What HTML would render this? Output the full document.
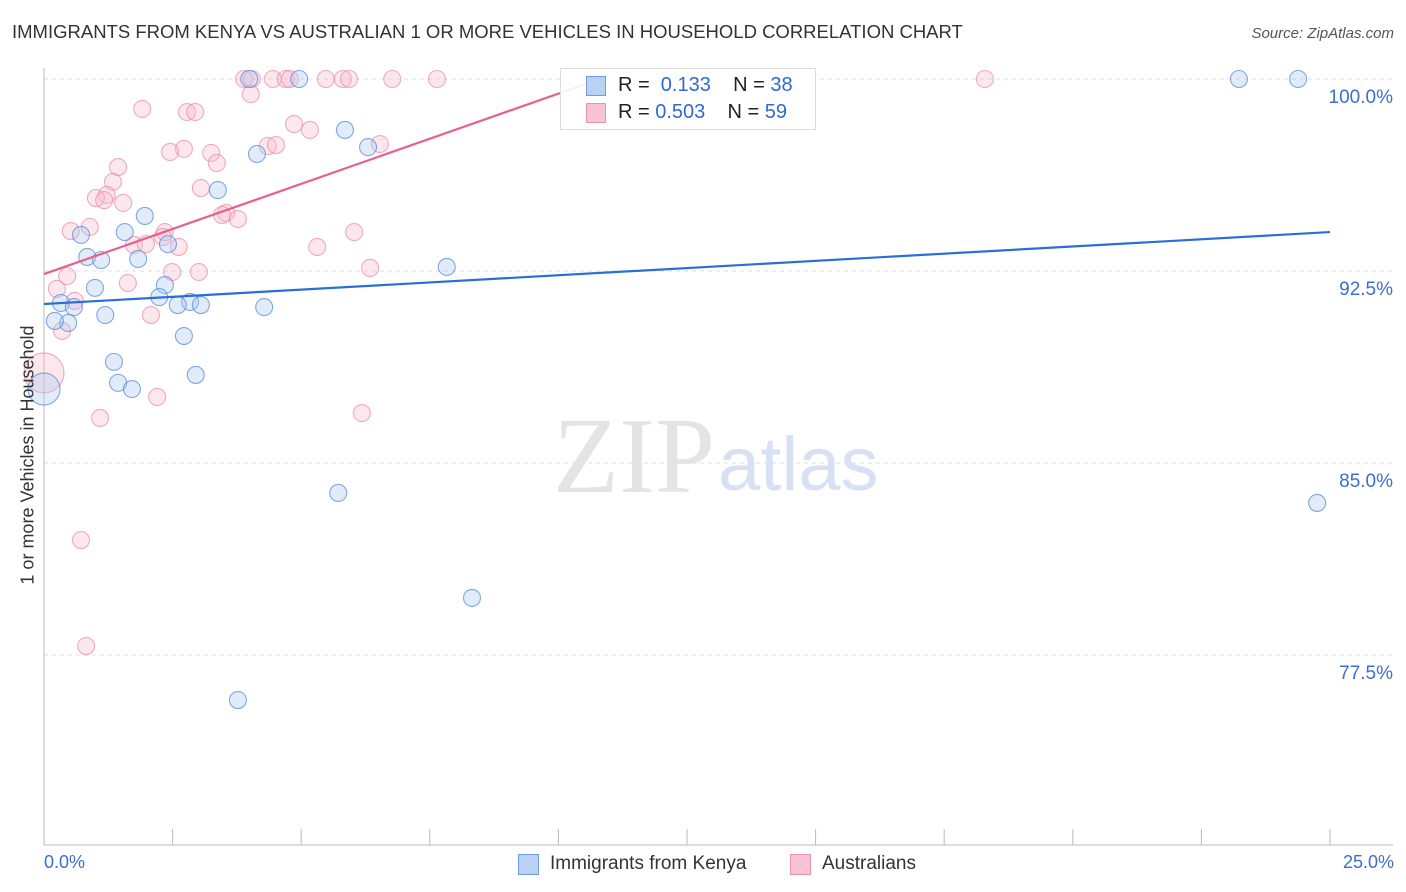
<!DOCTYPE html>
<html><head><meta charset="utf-8"><style>
body{margin:0;background:#fff;font-family:"Liberation Sans",sans-serif;}
#c{position:relative;width:1406px;height:892px;overflow:hidden;}
.t{position:absolute;white-space:nowrap;}
</style></head><body>
<div id="c">
<div class="t" style="left:12px;top:21px;font-size:18.5px;color:#333;">IMMIGRANTS FROM KENYA VS AUSTRALIAN 1 OR MORE VEHICLES IN HOUSEHOLD CORRELATION CHART</div>
<div class="t" style="right:12px;top:25px;font-size:15px;color:#555;font-style:italic;">Source: ZipAtlas.com</div>
<svg id="s" width="1406" height="892" style="position:absolute;left:0;top:0"></svg>
</div>
<script>
const yTicks=[100,92.5,85,77.5];
const yTickLabels=["100.0%","92.5%","85.0%","77.5%"];
const blueX=[3.99,4.96,23.23,24.38,5.85,6.30,4.14,3.38,1.96,1.57,0.72,2.41,0.84,1.11,1.83,7.83,0.99,2.35,2.24,0.33,0.58,2.84,2.60,3.05,4.28,1.19,0.47,0.21,2.72,1.36,2.95,1.44,1.71,0,5.72,24.75,8.32,3.77];
const blueY=[100,100,100,100,98.01,97.34,97.07,95.66,94.65,94.02,93.91,93.55,93.05,92.93,92.97,92.66,91.84,91.95,91.48,91.25,91.09,91.29,91.17,91.17,91.09,90.78,90.47,90.55,89.96,88.95,88.44,88.13,87.89,87.89,83.83,83.44,79.73,75.74];
const pinkX=[3.89,4.04,4.45,4.70,4.78,5.48,5.81,5.93,6.77,7.64,18.29,4.02,1.91,2.78,2.94,4.86,5.17,2.72,2.45,3.25,3.36,4.35,4.51,6.53,1.44,1.34,3.05,1.22,1.01,1.17,1.54,0.52,0.89,3.54,3.46,3.77,2.35,2.31,6.03,1.75,1.98,2.62,5.31,2.49,3.01,6.34,0.45,1.63,0.25,0.60,2.08,0.35,0,2.20,1.09,6.18,0.72,0.82,12.64];
const pinkY=[100,100,100,100,100,100,100,100,100,100,100,99.41,98.83,98.71,98.71,98.24,98.01,97.27,97.15,97.11,96.72,97.38,97.42,97.46,96.56,95.98,95.74,95.47,95.35,95.27,95.16,94.06,94.22,94.77,94.69,94.53,94.02,93.83,94.02,93.52,93.55,93.44,93.44,92.46,92.46,92.62,92.30,92.03,91.80,91.33,90.78,90.16,88.52,87.58,86.76,86.95,81.99,77.85,100];
const blueTrend=[91.21,94.02];
const pinkTrend=[92.38,100];
const pinkTrendEndX=10.81;

const X=v=>44+v*51.44, Y=v=>79+(100-v)*25.6;
const s=document.getElementById('s');
const NS='http://www.w3.org/2000/svg';
function mk(tag,a){const e=document.createElementNS(NS,tag);for(const k in a)e.setAttribute(k,a[k]);s.appendChild(e);return e;}
yTicks.forEach((v,i)=>{
 const g=mk('line',{x1:44,x2:1393,y1:Y(v),y2:Y(v),stroke:'#ddd','stroke-dasharray':'4,4'});
 
 
 const t=mk('text',{x:1393,y:Y(v)+24,'text-anchor':'end','font-size':'19',fill:'#3a6fd0','font-family':'Liberation Sans'});
 t.textContent=yTickLabels[i];
 
 
});
const ax=mk('line',{x1:44,x2:44,y1:68,y2:845,stroke:'#bbb'});


const bx=mk('line',{x1:44,x2:1393,y1:845,y2:845,stroke:'#bbb'});


for(let i=0;i<=10;i++){
 const tk=mk('line',{x1:X(i*2.5),x2:X(i*2.5),y1:829,y2:845,stroke:'#bbb'});
 
 
}
const wm1=mk('text',{x:553,y:492,'font-size':'108','font-family':'Liberation Serif',fill:'#e4e4e4'});
wm1.textContent='ZIP';


const wm2=mk('text',{x:718,y:490,'font-size':'76','font-family':'Liberation Sans',fill:'#d6e2f4'});
wm2.textContent='atlas';


function pts(xs,ys,fill,stroke,name){
 xs.forEach((x,i)=>{
  const big=(x===0)&&(ys[i]<89);
  const c=mk('circle',{cx:X(x),cy:Y(ys[i]),r:big?(name==='pink-point'?20:16):8.5,fill:fill,'fill-opacity':0.35,stroke:stroke,'stroke-width':1.1,'stroke-opacity':0.7});
  
  
 });
}
pts(pinkX,pinkY,'#f7b9cc','#e98aa8','pink-point');
pts(blueX,blueY,'#aac8f0','#4f86d8','blue-point');
const bl=mk('line',{x1:X(0),y1:Y(blueTrend[0]),x2:X(25),y2:Y(blueTrend[1]),stroke:'#2a6fd6','stroke-width':2.2});


const pl=mk('line',{x1:X(0),y1:Y(pinkTrend[0]),x2:X(pinkTrendEndX),y2:Y(pinkTrend[1]),stroke:'#e8608c','stroke-width':2.2});


</script>
<div class="t" style="left:560px;top:68px;width:256px;height:62px;border:1px solid #ddd;background:rgba(255,255,255,0.9);box-sizing:border-box;">
 <div style="position:absolute;left:25px;top:7px;width:20px;height:20px;background:#b9d1f3;border:1px solid #6f9ce0;box-sizing:border-box"></div>
 <div style="position:absolute;left:25px;top:34px;width:20px;height:20px;background:#f9c3d3;border:1px solid #eb93b0;box-sizing:border-box"></div>
 <div class="t" style="left:57px;top:5px;font-size:20px;color:#222">R = &nbsp;<span style="color:#2e6ad0">0.133</span>&nbsp;&nbsp;&nbsp; N = <span style="color:#2e6ad0">38</span></div>
 <div class="t" style="left:57px;top:32px;font-size:20px;color:#222">R = <span style="color:#2e6ad0">0.503</span>&nbsp;&nbsp;&nbsp; N = <span style="color:#2e6ad0">59</span></div>
</div>
<div class="t" style="left:44px;top:852px;font-size:18px;color:#3a6fd0">0.0%</div>
<div class="t" style="right:12px;top:852px;font-size:18px;color:#3a6fd0">25.0%</div>
<div class="t" style="left:18px;top:455px;font-size:18px;color:#333;transform:translate(-50%,-50%) rotate(-90deg);transform-origin:center;margin-left:10px">1 or more Vehicles in Household</div>
<div class="t" style="left:518px;top:854px;width:21px;height:21px;background:#b9d1f3;border:1px solid #6f9ce0;box-sizing:border-box"></div>
<div class="t" style="left:550px;top:853px;font-size:19px;color:#333">Immigrants from Kenya</div>
<div class="t" style="left:790px;top:854px;width:21px;height:21px;background:#f9c3d3;border:1px solid #eb93b0;box-sizing:border-box"></div>
<div class="t" style="left:822px;top:853px;font-size:19px;color:#333">Australians</div>
</body></html>
